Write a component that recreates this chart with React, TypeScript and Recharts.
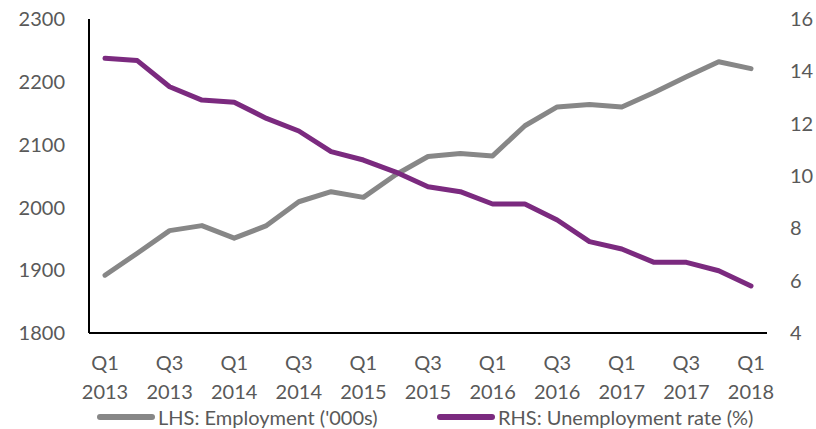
import React from "react";
import { LineChart, Line, XAxis, YAxis, Legend } from "recharts";

const quarters = [
  "Q1 2013", "Q2 2013", "Q3 2013", "Q4 2013",
  "Q1 2014", "Q2 2014", "Q3 2014", "Q4 2014",
  "Q1 2015", "Q2 2015", "Q3 2015", "Q4 2015",
  "Q1 2016", "Q2 2016", "Q3 2016", "Q4 2016",
  "Q1 2017", "Q2 2017", "Q3 2017", "Q4 2017",
  "Q1 2018",
];
const employment = [
  1892, 1927, 1963, 1971, 1951, 1971, 2009, 2025, 2016, 2052, 2081,
  2086, 2082, 2130, 2160, 2164, 2160, 2183, 2208, 2232, 2221,
];
const unemployment = [
  14.5, 14.41, 13.41, 12.9, 12.82, 12.2, 11.72, 10.93, 10.61, 10.15, 9.59,
  9.4, 8.93, 8.93, 8.32, 7.49, 7.21, 6.7, 6.7, 6.38, 5.8,
];
const leftTicks = [1800, 1900, 2000, 2100, 2200, 2300];
const rightTicks = [4, 6, 8, 10, 12, 14, 16];

const seriesNames = ["LHS: Employment ('000s)", "RHS: Unemployment rate (%)"];
const GREY = "#878787";
const PURPLE = "#7B2A7F";
const TEXT = "#595959";
const FONT = "Lato, 'Open Sans', sans-serif";

const data = quarters.map((q, i) => ({
  q,
  emp: employment[i],
  unemp: unemployment[i],
}));

const XTick = (props: any) => {
  const { x, y, payload } = props;
  const [a, b] = String(payload.value).split(" ");
  return (
    <g>
      <text x={x} y={y + 29} textAnchor="middle" fill={TEXT} fontSize={20} fontFamily={FONT}>
        {a}
      </text>
      <text x={x} y={y + 58} textAnchor="middle" fill={TEXT} fontSize={20} fontFamily={FONT}>
        {b}
      </text>
    </g>
  );
};

const LegendContent = () => {
  const items = [
    { name: seriesNames[0], color: GREY },
    { name: seriesNames[1], color: PURPLE },
  ];
  return (
    <div style={{ height: 24, position: "relative", fontFamily: FONT, fontSize: 20, color: TEXT }}>
      {items.map((it, i) => (
        <div
          key={it.name}
          style={{
            position: "absolute",
            left: i === 0 ? 96 : 436,
            top: 1,
            height: 22,
            display: "flex",
            alignItems: "center",
            whiteSpace: "nowrap",
          }}
        >
          <svg width={60} height={10} style={{ marginRight: 2 }}>
            <line x1={4} y1={5} x2={56} y2={5} stroke={it.color} strokeWidth={6} strokeLinecap="round" />
          </svg>
          <span style={{ lineHeight: "22px" }}>{it.name}</span>
        </div>
      ))}
    </div>
  );
};

export default function App() {
  return (
    <div style={{ position: "absolute", left: 0, top: 0, width: 816, height: 429, background: "#fff" }}>
      <LineChart
        width={816}
        height={429}
        data={data}
        margin={{ top: 19, right: 0, left: 0, bottom: 0 }}
      >
        <XAxis
          dataKey="q"
          interval={1}
          tickLine={false}
          axisLine={{ stroke: "#000", strokeWidth: 2 }}
          height={72}
          padding={{ left: 16, right: 16 }}
          tick={<XTick />}
        />
        <YAxis
          yAxisId="left"
          orientation="left"
          domain={[1800, 2300]}
          ticks={leftTicks}
          width={89}
          tickLine={false}
          tickSize={0}
          tickMargin={24}
          axisLine={{ stroke: "#000", strokeWidth: 2 }}
          tick={{ fill: TEXT, fontSize: 20, fontFamily: FONT }}
        />
        <YAxis
          yAxisId="right"
          orientation="right"
          domain={[4, 16]}
          ticks={rightTicks}
          width={49}
          tickLine={false}
          tickSize={0}
          tickMargin={23}
          axisLine={false}
          tick={{ fill: TEXT, fontSize: 20, fontFamily: FONT, textAnchor: "start" }}
        />
        <Legend verticalAlign="bottom" align="left" content={<LegendContent />} wrapperStyle={{ width: 816, left: 0 }} />
        <Line
          yAxisId="left"
          dataKey="emp"
          name={seriesNames[0]}
          stroke={GREY}
          strokeWidth={5}
          strokeLinecap="round"
          strokeLinejoin="round"
          dot={false}
          isAnimationActive={false}
        />
        <Line
          yAxisId="right"
          dataKey="unemp"
          name={seriesNames[1]}
          stroke={PURPLE}
          strokeWidth={5}
          strokeLinecap="round"
          strokeLinejoin="round"
          dot={false}
          isAnimationActive={false}
        />
      </LineChart>
    </div>
  );
}
